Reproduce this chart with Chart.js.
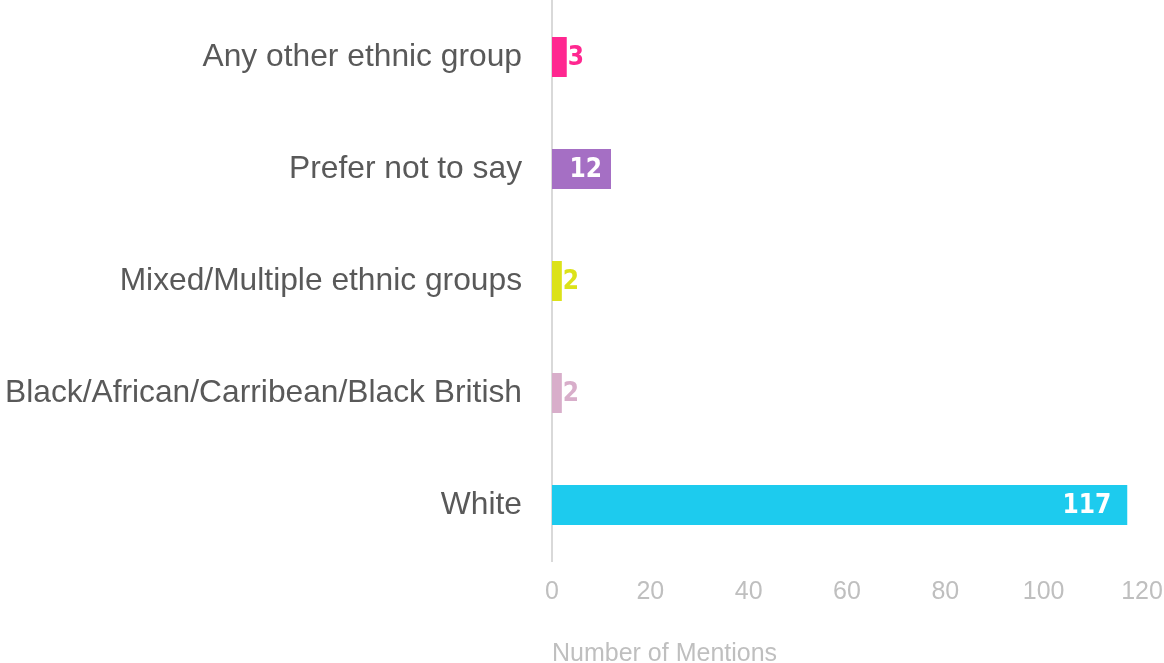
<!DOCTYPE html>
<html><head><meta charset="utf-8">
<script src="https://cdn.jsdelivr.net/npm/chart.js@4"></script>
<style>html,body{margin:0;padding:0;background:#fff}#wrap{width:1164px;height:663px}</style>
</head><body><div id="wrap"><canvas id="c" width="1164" height="663"></canvas></div>
<script>
const categories = ["Any other ethnic group","Prefer not to say","Mixed/Multiple ethnic groups","Black/African/Carribean/Black British","White"];
const values = [3, 12, 2, 2, 117];
const barColors = ["#FF2790","#A56FC4","#DCE21A","#D8AECA","#1DCBEE"];
const xTicks = [0,20,40,60,80,100,120];
const axisTitle = "Number of Mentions";

const labelPlugin = {
  id: 'barLabels',
  afterDatasetsDraw(chart) {
    const ctx = chart.ctx;
    const meta = chart.getDatasetMeta(0);
    ctx.save();
    ctx.font = 'bold 26px "DejaVu Sans Condensed"';
    ctx.textBaseline = 'middle';
    meta.data.forEach((bar, i) => {
      const txt = String(values[i]);
      const w = ctx.measureText(txt).width;
      const barW = bar.x - bar.base;
      if (barW > w + 16) {
        ctx.fillStyle = '#ffffff';
        ctx.textAlign = 'right';
        ctx.fillText(txt, bar.x - (barW > 100 ? 16 : 9), bar.y + 1);
      } else {
        ctx.fillStyle = barColors[i];
        ctx.textAlign = 'left';
        ctx.fillText(txt, bar.x + 1, bar.y + 1);
      }
    });
    ctx.restore();
  }
};

new Chart(document.getElementById('c'), {
  type: 'bar',
  data: {
    labels: categories,
    datasets: [{ data: values, backgroundColor: barColors, borderWidth: 0, barPercentage: 0.357, categoryPercentage: 1.0 }]
  },
  options: {
    indexAxis: 'y',
    responsive: false,
    animation: false,
    layout: { padding: { top: 1, right: 22, left: 0, bottom: 0 } },
    plugins: { legend: { display: false }, tooltip: { enabled: false } },
    scales: {
      x: {
        min: 0, max: 120,
        afterBuildTicks: (s) => { s.ticks = xTicks.map(v => ({ value: v })); },
        grid: { display: false, drawTicks: false },
        border: { display: false },
        ticks: { color: '#BFBFBF', font: { family: 'Liberation Sans', size: 25 }, padding: 16 },
        title: { display: true, text: axisTitle, align: 'start', color: '#BFBFBF', font: { family: 'Liberation Sans', size: 25, lineHeight: 0.68 }, padding: { top: 31, bottom: 0 } },
        afterFit: (s) => { s.height = 102; s.paddingLeft = 0; s.paddingRight = 0; }
      },
      y: {
        grid: { display: false, drawTicks: false },
        border: { display: true, color: '#D9D9D9', width: 2 },
        ticks: { color: '#595959', font: { family: 'Liberation Sans', size: 31.75 }, padding: 30 },
        afterFit: (s) => { s.width = 552; s.paddingTop = 0; s.paddingBottom = 0; }
      }
    }
  },
  plugins: [labelPlugin]
});
</script></body></html>
